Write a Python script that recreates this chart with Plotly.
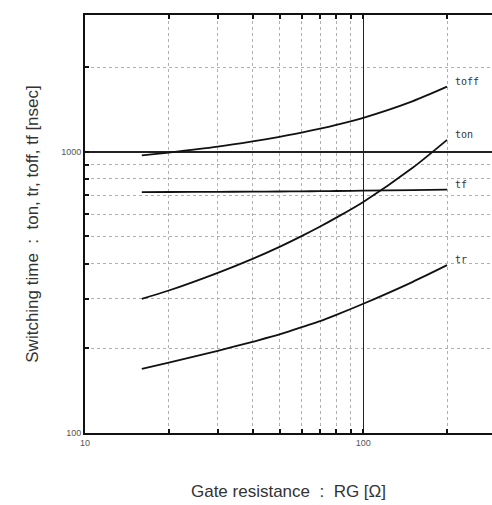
import numpy as np
import plotly.graph_objects as go

# Gate resistance RG [ohm]
rg = [16, 20, 30, 40, 50, 60, 70, 80, 100, 150, 200]

# Switching times [nsec]
t_off = [970, 993, 1042, 1088, 1130, 1170, 1208, 1246, 1320, 1510, 1703]
t_on = [300, 321, 371, 416, 459, 501, 542, 583, 663, 875, 1102]
t_f = [718, 719, 720, 721, 722, 723, 724, 725, 727, 730, 733]
t_r = [169, 178, 196, 211, 224, 238, 250, 263, 288, 344, 395]

series = [("toff", t_off), ("ton", t_on), ("tf", t_f), ("tr", t_r)]

x_minor = [20, 30, 40, 50, 60, 70, 80, 90, 200]
y_minor = [200, 300, 400, 500, 600, 700, 800, 900, 2000]

fig = go.Figure()
for name, vals in series:
    fig.add_trace(go.Scatter(
        x=rg, y=vals, mode="lines", name=name,
        line=dict(color="#111111", width=1.8, shape="spline", smoothing=0.8),
        showlegend=False, hoverinfo="skip",
    ))
    fig.add_annotation(
        x=np.log10(rg[-1]), y=np.log10(vals[-1]), text=name,
        showarrow=False, xanchor="left", yanchor="bottom",
        xshift=6, yshift=-2,
        font=dict(family="DejaVu Sans Mono", size=10, color="#333333"),
    )

fig.update_layout(
    width=492, height=505,
    margin=dict(l=85, r=0, t=15, b=72),
    paper_bgcolor="white", plot_bgcolor="white",
    font=dict(family="Liberation Sans, Arial, sans-serif", color="#333333"),
)

fig.update_xaxes(
    type="log", range=[1, 2.4625],
    tickvals=[10, 100], ticktext=["10", "100"],
    tickfont=dict(size=9, color="#555555"),
    ticks="inside", ticklen=4, tickwidth=2, tickcolor="#111111",
    showgrid=True, gridcolor="#222222", gridwidth=1.3,
    showline=True, linecolor="#111111", linewidth=2, mirror="ticks",
    minor=dict(tickvals=x_minor, showgrid=True, gridcolor="#b0b0b0",
               griddash="dot", gridwidth=1, ticks="inside", ticklen=4,
               tickwidth=2, tickcolor="#111111"),
    title=dict(text="Gate resistance  :  RG [\u03a9]", standoff=38,
               font=dict(size=17, color="#333333")),
    zeroline=False,
)

fig.update_yaxes(
    type="log", range=[2, 3.486],
    tickvals=[100, 1000], ticktext=["100", "1000"],
    tickfont=dict(size=9, color="#555555"),
    ticks="inside", ticklen=4, tickwidth=2, tickcolor="#111111",
    showgrid=True, gridcolor="#222222", gridwidth=1.6,
    showline=True, linecolor="#111111", linewidth=2, mirror=False,
    minor=dict(tickvals=y_minor, showgrid=True, gridcolor="#b0b0b0",
               griddash="dot", gridwidth=1, ticks="inside", ticklen=4,
               tickwidth=2, tickcolor="#111111"),
    title=dict(text="Switching time  :  ton, tr, toff, tf [nsec]", standoff=18,
               font=dict(size=17, color="#333333")),
    zeroline=False,
)

fig.write_html("out.html")
